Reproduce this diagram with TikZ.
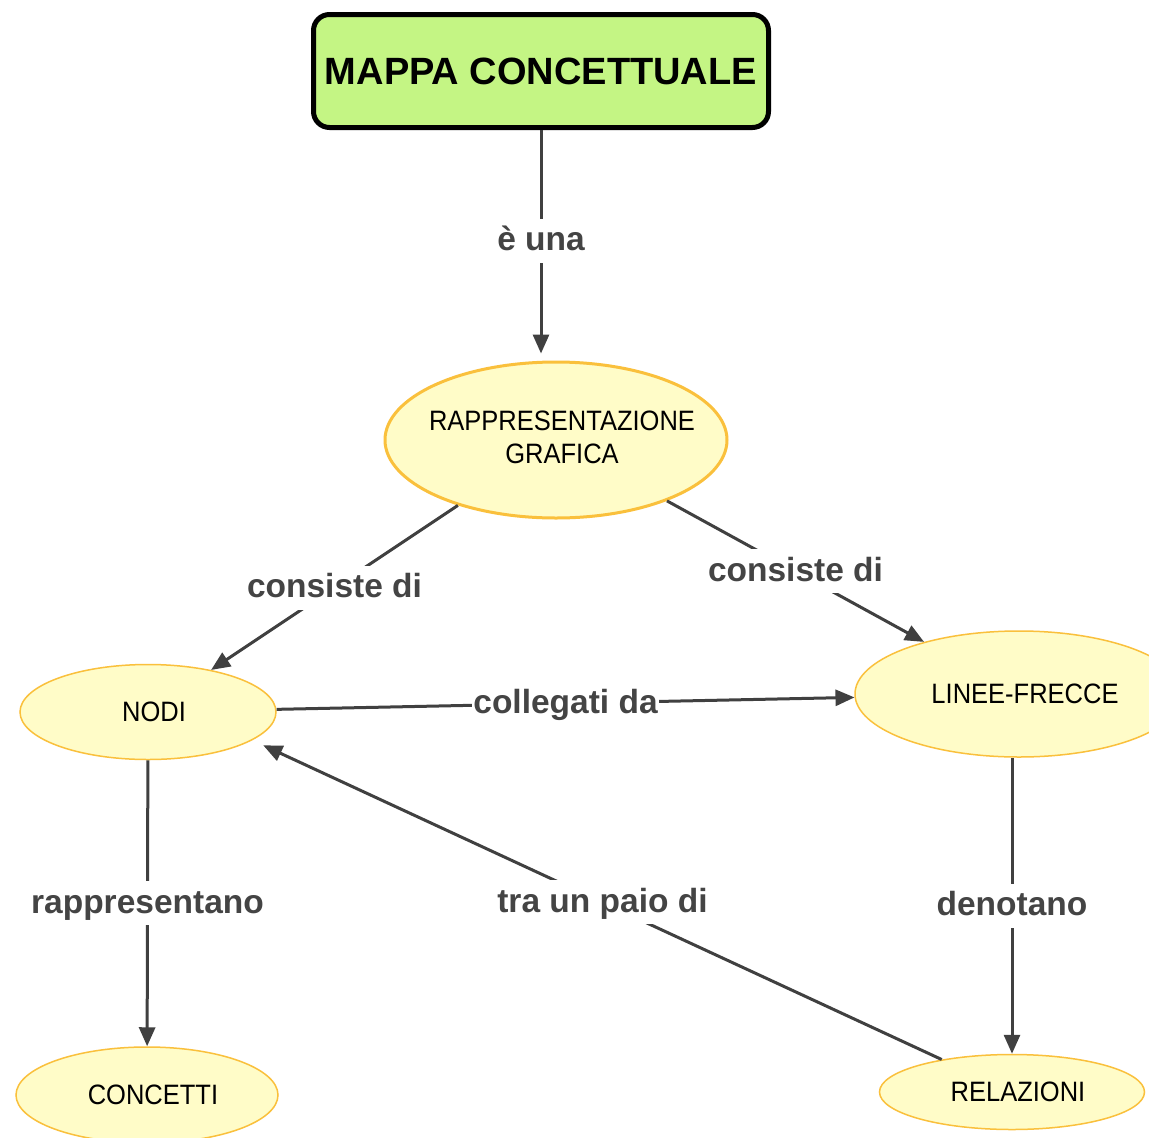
\documentclass[tikz,border=0pt]{standalone}
\usepackage{fontspec}
\usepackage{graphicx}
\setmainfont{Liberation Sans}
\usetikzlibrary{shapes.geometric,arrows.meta}
\definecolor{boxgreen}{RGB}{196,245,132}
\definecolor{ellfill}{RGB}{255,252,200}
\definecolor{ellline}{RGB}{250,192,60}
\definecolor{linkgray}{RGB}{64,64,64}
\definecolor{lblgray}{RGB}{68,68,68}
% zero-width, slightly tall text, nudged right as in the reference
\newcommand\ctext[1]{\makebox[0pt][l]{\hspace*{6pt}\makebox[0pt]{\scalebox{1}[1.1]{#1}}}}
\begin{document}
\begin{tikzpicture}[x=1pt,y=-1pt,
  concept/.style={ellipse, draw=ellline, fill=ellfill, line width=1.5pt, inner sep=0pt,
    font=\fontsize{25.5}{30}\selectfont, text=black},
  titlebox/.style={draw=black, line width=5pt, rounded corners=16pt, fill=boxgreen,
    inner sep=0pt, font=\bfseries\fontsize{38}{44}\selectfont, text=black},
  link/.style={draw=linkgray, line width=3pt, -{Triangle[length=19pt,width=16pt]}},
  lbl/.style={fill=white, text=lblgray, font=\bfseries\fontsize{33.5}{40}\selectfont,
    inner xsep=1pt, inner ysep=4pt, text height=28pt, text depth=8pt}]
\useasboundingbox[fill=white] (0,0) rectangle (1149,1138);
\begin{scope}
\clip (0,0) rectangle (1149,1138);
\node[titlebox, minimum width=455pt, minimum height=113pt] (mappa) at (541,71) {MAPPA CONCETTUALE};
\node[concept, line width=3pt, minimum width=342pt, minimum height=156pt] (rapp) at (556,440)
  {\ctext{\begin{tabular}{@{}c@{}}RAPPRESENTAZIONE\\GRAFICA\end{tabular}}};
\node[concept, minimum width=256pt, minimum height=95pt] (nodi) at (148,712) {\ctext{NODI}};
\node[concept, minimum width=328pt, minimum height=126pt] (linee) at (1019,694) {\ctext{LINEE-FRECCE}};
\node[concept, minimum width=262pt, minimum height=96pt] (conc) at (147,1095) {\ctext{CONCETTI}};
\node[concept, minimum width=265pt, minimum height=75pt] (rel) at (1012,1092) {\ctext{RELAZIONI}};

\draw[link, shorten >=7pt] (mappa.south) -- (mappa.south |- rapp.north)
  node[lbl, pos=0.48] {è una};
\draw[link] (rapp) -- (nodi) node[lbl, midway] {consiste di};
\draw[link] (rapp) -- (linee) node[lbl, midway] {consiste di};
\draw[link] (nodi) -- (linee) node[lbl, midway] {collegati da};
\draw[link] (nodi) -- (conc) node[lbl, midway] {rappresentano};
\draw[link] (linee.south -| rel.north) -- (rel.north) node[lbl, midway] {denotano};
\draw[link] (rel) -- ([shift={(13,4)}]nodi.-16) node[lbl, midway] {tra un paio di};
\end{scope}
\end{tikzpicture}
\end{document}
